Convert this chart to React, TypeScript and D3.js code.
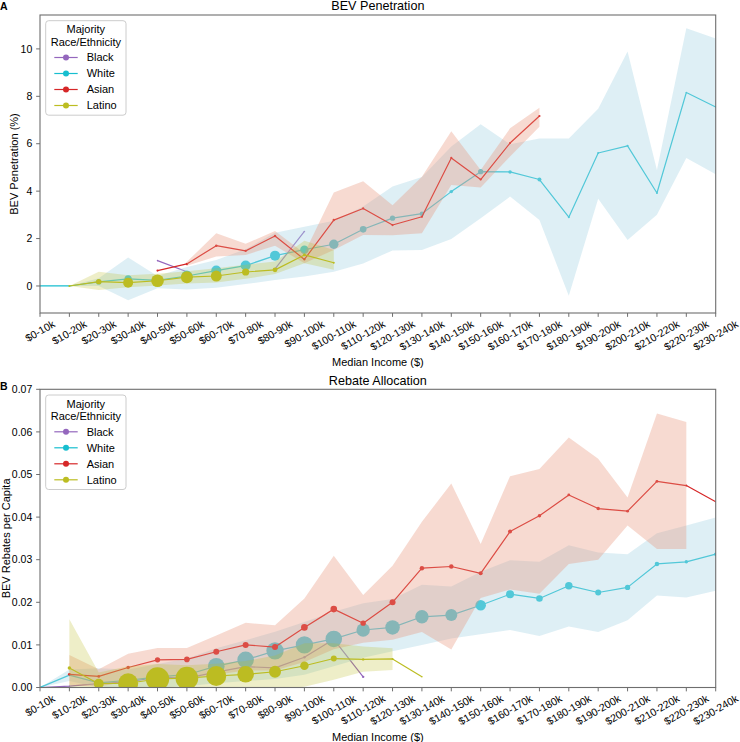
import React, { useEffect, useRef } from 'react';
import * as d3 from 'd3';

const N = NaN;

const incomeBins = [
  '$0-10k', '$10-20k', '$20-30k', '$30-40k', '$40-50k', '$50-60k', '$60-70k', '$70-80k',
  '$80-90k', '$90-100k', '$100-110k', '$110-120k', '$120-130k', '$130-140k', '$140-150k',
  '$150-160k', '$160-170k', '$170-180k', '$180-190k', '$190-200k', '$200-210k', '$210-220k',
  '$220-230k', '$230-240k',
];

const groupNames = ['Black', 'White', 'Asian', 'Latino'];

// ---------- Panel A: BEV penetration (%) ----------
const penBlack = [N, N, N, N, 1.07, 0.6, N, N, 0.72, 2.3, N, N, N, N, N, N, N, N, N, N, N, N, N, N];
const penWhite = [0, 0, 0.17, 0.3, 0.24, 0.42, 0.65, 0.86, 1.28, 1.53, 1.76, 2.39, 2.86, 3.05, 3.98, 4.82, 4.81, 4.49, 2.9, 5.61, 5.91, 3.92, 8.16, 7.55];
const penWhiteLo = [0, 0, 0.0, -0.6, -0.1, -0.15, -0.08, 0.08, 0.25, 0.4, 0.6, 0.95, 1.5, 1.52, 1.98, 2.86, 3.77, 2.78, -0.41, 3.68, 1.94, 3.0, 5.4, 4.71];
const penWhiteHi = [0, 0, 0.33, 1.2, 0.42, 0.8, 1.1, 1.55, 2.25, 2.5, 2.75, 3.35, 4.2, 4.6, 5.88, 6.82, 5.98, 6.22, 6.22, 7.48, 9.89, 4.89, 10.87, 10.44];
const penAsian = [N, N, N, N, 0.65, 0.93, 1.7, 1.48, 2.11, 1.12, 2.78, 3.27, 2.57, 2.92, 5.4, 4.49, 6.03, 7.17, N, N, N, N, N, N];
const penAsianLo = [N, N, N, N, N, 0.85, 1.24, 1.31, 1.7, 0.96, 1.52, 2.15, 2.14, 2.22, 4.26, 4.15, 5.46, 6.72, N, N, N, N, N, N];
const penAsianHi = [N, N, N, N, N, 1.02, 2.22, 1.78, 2.32, 1.38, 3.94, 4.42, 3.4, 4.61, 6.53, 4.89, 6.65, 7.52, N, N, N, N, N, N];
const penLatino = [N, 0, 0.18, 0.14, 0.22, 0.37, 0.42, 0.59, 0.68, 1.31, 0.98, N, N, N, N, N, N, N, N, N, N, N, N, N];
const penLatinoLo = [N, 0, -0.17, -0.05, 0.02, 0.1, 0.15, 0.3, 0.5, 0.96, 0.68, N, N, N, N, N, N, N, N, N, N, N, N, N];
const penLatinoHi = [N, 0, 0.6, 0.45, 0.52, 0.62, 0.75, 0.9, 1.03, 1.91, 1.52, N, N, N, N, N, N, N, N, N, N, N, N, N];
// number of tracts per bin (marker area)
const penBlackN = [0, 0, 0, 0, 0.6, 0.6, 0, 0, 0.6, 0.6, 0, 0, 0, 0, 0, 0, 0, 0, 0, 0, 0, 0, 0, 0];
const penWhiteN = [0.3, 0.3, 7, 13, 9, 30, 25, 25, 25, 18, 22, 11, 7, 5, 3, 7, 3, 4, 1, 1, 1, 1, 0.6, 0.6];
const penAsianN = [0, 0, 0, 0, 1.2, 1.5, 1.5, 1.2, 1.5, 1.2, 1.5, 1.2, 1.2, 1.2, 1.2, 1.2, 1.2, 1.2, 0, 0, 0, 0, 0, 0];
const penLatinoN = [0, 1, 7, 25, 40, 36, 30, 13, 6, 2, 1, 0, 0, 0, 0, 0, 0, 0, 0, 0, 0, 0, 0, 0];
const penTicks = [0, 2, 4, 6, 8, 10];

// ---------- Panel B: rebates per capita ----------
const rebBlack = [0, 0.0003, 0.0009, 0.0013, 0.0024, 0.0022, 0.0036, 0.0049, 0.0046, 0.0071, 0.0113, 0.0025, N, N, N, N, N, N, N, N, N, N, N, N];
const rebWhite = [0, 0.0029, 0.0011, 0.0017, 0.0025, 0.003, 0.005, 0.0065, 0.0086, 0.01, 0.0114, 0.0135, 0.0141, 0.0166, 0.017, 0.0193, 0.0219, 0.0209, 0.0239, 0.0223, 0.0235, 0.029, 0.0295, 0.0313];
const rebWhiteLo = [0, 0.0015, 0, 0, 0, 0.0003, 0.001, 0.0015, 0.002, 0.003, 0.005, 0.007, 0.0085, 0.01, 0.0115, 0.0125, 0.0135, 0.0121, 0.0143, 0.013, 0.0158, 0.0216, 0.0211, 0.0227];
const rebWhiteHi = [0, 0.0042, 0.0045, 0.0042, 0.0055, 0.0068, 0.0092, 0.0111, 0.0131, 0.0154, 0.0178, 0.0198, 0.0208, 0.0241, 0.0237, 0.0272, 0.0299, 0.0295, 0.0334, 0.0317, 0.0313, 0.0362, 0.038, 0.0399];
const rebAsian = [N, 0.0031, 0.0026, 0.0047, 0.0065, 0.0066, 0.0084, 0.01, 0.0095, 0.0141, 0.0184, 0.0151, 0.02, 0.028, 0.0284, 0.0268, 0.0366, 0.0403, 0.0452, 0.042, 0.0414, 0.0484, 0.0474, 0.0436];
const rebAsianLo = [N, 0.0005, 0.0002, 0.0015, 0.0025, 0.0022, 0.003, 0.004, 0.004, 0.006, 0.009, 0.0105, 0.0112, 0.013, 0.0089, 0.021, 0.023, 0.022, 0.029, 0.03, 0.038, 0.0325, 0.0325, N];
const rebAsianHi = [N, 0.0076, 0.0043, 0.0079, 0.0093, 0.0093, 0.0122, 0.0152, 0.0146, 0.0209, 0.0309, 0.0217, 0.0286, 0.0389, 0.0479, 0.0337, 0.0496, 0.0513, 0.0587, 0.0537, 0.0446, 0.0643, 0.0623, N];
const rebLatino = [N, 0.0046, 0.0009, 0.001, 0.002, 0.0022, 0.0027, 0.0031, 0.0037, 0.0051, 0.0068, 0.0066, 0.0067, 0.0025, N, N, N, N, N, N, N, N, N, N];
const rebLatinoLo = [N, 0, 0, -0.001, -0.001, -0.001, -0.001, -0.001, -0.0005, 0.0002, 0.0018, 0.0037, 0.0041, N, N, N, N, N, N, N, N, N, N, N];
const rebLatinoHi = [N, 0.016, 0.0035, 0.005, 0.0055, 0.0052, 0.0056, 0.0062, 0.0075, 0.0104, 0.0104, 0.0096, 0.0092, N, N, N, N, N, N, N, N, N, N, N];
const rebBlackN = [0.3, 0.6, 1, 1, 1, 1, 1.2, 1.2, 1.2, 1.5, 1.5, 1.5, 0, 0, 0, 0, 0, 0, 0, 0, 0, 0, 0, 0];
const rebWhiteN = [0.3, 1, 9, 16, 56, 45, 69, 69, 75, 75, 69, 45, 53, 45, 36, 28, 16, 11, 14, 9, 7, 5, 3, 3];
const rebAsianN = [0, 2, 2, 3, 7, 8, 9, 9, 9, 11, 11, 7, 9, 5, 5, 4, 4, 3, 2, 3, 2, 2, 1, 0.5];
const rebLatinoN = [0, 3, 25, 100, 137, 128, 100, 69, 36, 18, 9, 1.5, 1, 0.6, 0, 0, 0, 0, 0, 0, 0, 0, 0, 0];
const rebTicks = [0, 0.01, 0.02, 0.03, 0.04, 0.05, 0.06, 0.07];

// ---------- styling ----------
const FONT = '"Liberation Sans", Arial, Helvetica, sans-serif';
const COLORS: Record<string, string> = { Black: '#9467bd', White: '#17becf', Asian: '#d62728', Latino: '#bcbd22' };
const BAND: Record<string, [string, number]> = {
  White: ['#add8e6', 0.4],
  Asian: ['#e9967a', 0.35],
  Latino: ['#bcbd22', 0.25],
};
const PLOT_L = 40;
const PLOT_R = 715.7;
const TICK = 3.85;
const PAD = 3.85;
const TFS = 10.5; // tick label font
const FS = 11; // axis label / legend font
const ROT = 30;

type Series = { name: string; v: number[]; lo?: number[]; hi?: number[]; n: number[] };
type Panel = {
  key: string; letter: string; title: string; ylabel: string; top: number; bottom: number;
  yDomain: [number, number]; ticks: number[]; fmt: (d: number) => string; series: Series[];
  ylabelX: number; letterY: number;
};

function drawPanel(root: d3.Selection<SVGSVGElement, unknown, null, undefined>, p: Panel) {
  const x = d3.scalePoint<string>().domain(incomeBins).range([PLOT_L, PLOT_R]);
  const y = d3.scaleLinear().domain(p.yDomain).range([p.bottom, p.top]);
  const r = d3.scaleSqrt().domain([0, 144]).range([0, 12]);
  const clipId = 'clip-' + p.key;
  root.append('clipPath').attr('id', clipId).append('rect')
    .attr('x', PLOT_L).attr('y', p.top).attr('width', PLOT_R - PLOT_L).attr('height', p.bottom - p.top);
  const plot = root.append('g').attr('clip-path', `url(#${clipId})`);

  p.series.forEach((s) => {
    const pts = incomeBins.map((b, i) => ({ b, v: s.v[i], lo: s.lo ? s.lo[i] : N, hi: s.hi ? s.hi[i] : N, n: s.n[i] }));
    const line = d3.line<any>().defined((d) => !isNaN(d.v)).x((d) => x(d.b)!).y((d) => y(d.v));
    plot.append('path').attr('d', line(pts)!).attr('fill', 'none')
      .attr('stroke', COLORS[s.name]).attr('stroke-width', 1.2).attr('stroke-linejoin', 'round');
    plot.append('g').selectAll('circle').data(pts.filter((d) => !isNaN(d.v) && d.n > 0)).join('circle')
      .attr('cx', (d) => x(d.b)!).attr('cy', (d) => y(d.v)).attr('r', (d) => r(d.n))
      .attr('fill', COLORS[s.name]);
    if (s.lo && s.hi && BAND[s.name]) {
      const area = d3.area<any>().defined((d) => !isNaN(d.lo) && !isNaN(d.hi))
        .x((d) => x(d.b)!).y0((d) => y(d.lo)).y1((d) => y(d.hi));
      plot.append('path').attr('d', area(pts)!).attr('fill', BAND[s.name][0]).attr('fill-opacity', BAND[s.name][1]);
    }
  });

  const axisColor = '#6e6e6e';
  root.append('rect').attr('x', PLOT_L).attr('y', p.top).attr('width', PLOT_R - PLOT_L).attr('height', p.bottom - p.top)
    .attr('fill', 'none').attr('stroke', axisColor).attr('stroke-width', 1.1);

  // y ticks
  const yt = root.append('g');
  p.ticks.forEach((t) => {
    yt.append('line').attr('x1', PLOT_L - TICK).attr('x2', PLOT_L).attr('y1', y(t)).attr('y2', y(t))
      .attr('stroke', axisColor).attr('stroke-width', 1);
    yt.append('text').attr('x', PLOT_L - TICK - PAD).attr('y', y(t)).attr('dy', '0.35em')
      .attr('text-anchor', 'end').attr('font-family', FONT).attr('font-size', TFS).attr('fill', '#000')
      .text(p.fmt(t));
  });

  // x ticks (rotated, centred on tick)
  const xt = root.append('g');
  const th = (ROT * Math.PI) / 180;
  incomeBins.forEach((b) => {
    const cx = x(b)!;
    xt.append('line').attr('x1', cx).attr('x2', cx).attr('y1', p.bottom).attr('y2', p.bottom + TICK)
      .attr('stroke', axisColor).attr('stroke-width', 1);
    const txt = xt.append('text').attr('text-anchor', 'middle').attr('dy', '0.35em')
      .attr('font-family', FONT).attr('font-size', TFS).attr('fill', '#000').text(b);
    const w = (txt.node() as SVGTextElement).getComputedTextLength();
    const h = TFS * 1.0;
    const cy = p.bottom + TICK + 1.5 + (w / 2) * Math.sin(th) + (h / 2) * Math.cos(th);
    txt.attr('transform', `translate(${cx},${cy}) rotate(${-ROT})`);
  });

  // axis labels and title
  root.append('text').attr('x', (PLOT_L + PLOT_R) / 2).attr('y', p.bottom + 53)
    .attr('text-anchor', 'middle').attr('font-family', FONT).attr('font-size', FS).text('Median Income ($)');
  root.append('text').attr('transform', `translate(${p.ylabelX},${(p.top + p.bottom) / 2}) rotate(-90)`)
    .attr('text-anchor', 'middle').attr('font-family', FONT).attr('font-size', FS).text(p.ylabel);
  root.append('text').attr('x', (PLOT_L + PLOT_R) / 2).attr('y', p.top - 4.8)
    .attr('text-anchor', 'middle').attr('font-family', FONT).attr('font-size', 12.6).text(p.title);
  root.append('text').attr('x', 0).attr('y', p.letterY)
    .attr('font-family', FONT).attr('font-size', 10.5).attr('font-weight', 'bold').text(p.letter);

  // legend
  const lg = root.append('g');
  const lx = 45.7;
  const ly = p.top + 5.7;
  lg.append('rect').attr('x', lx).attr('y', ly).attr('width', 80.3).attr('height', 94.5).attr('rx', 3)
    .attr('fill', '#fff').attr('fill-opacity', 0.8).attr('stroke', '#cccccc').attr('stroke-width', 1);
  const cxL = lx + 80.3 / 2;
  ['Majority', 'Race/Ethnicity'].forEach((t, i) => {
    lg.append('text').attr('x', cxL).attr('y', p.top + 14.6 + i * 12.2).attr('dy', '0.35em')
      .attr('text-anchor', 'middle').attr('font-family', FONT).attr('font-size', FS).text(t);
  });
  groupNames.forEach((g, i) => {
    const yy = p.top + 42.5 + i * 16;
    lg.append('line').attr('x1', 54.3).attr('x2', 77.7).attr('y1', yy).attr('y2', yy)
      .attr('stroke', COLORS[g]).attr('stroke-width', 1.2);
    lg.append('circle').attr('cx', 66).attr('cy', yy).attr('r', 3).attr('fill', COLORS[g]);
    lg.append('text').attr('x', 86.7).attr('y', yy).attr('dy', '0.35em')
      .attr('font-family', FONT).attr('font-size', FS).text(g);
  });
}

export default function App() {
  const ref = useRef<SVGSVGElement>(null);
  useEffect(() => {
    const svg = d3.select(ref.current!);
    svg.selectAll('*').remove();
    svg.append('rect').attr('width', 740).attr('height', 742).attr('fill', '#fff');
    drawPanel(svg, {
      key: 'a', letter: 'A', title: 'BEV Penetration', ylabel: 'BEV Penetration (%)',
      top: 15, bottom: 313, yDomain: [-1.14, 11.43], ticks: penTicks, fmt: (d) => String(d),
      ylabelX: 17.5, letterY: 10,
      series: [
        { name: 'Black', v: penBlack, n: penBlackN },
        { name: 'White', v: penWhite, lo: penWhiteLo, hi: penWhiteHi, n: penWhiteN },
        { name: 'Asian', v: penAsian, lo: penAsianLo, hi: penAsianHi, n: penAsianN },
        { name: 'Latino', v: penLatino, lo: penLatinoLo, hi: penLatinoHi, n: penLatinoN },
      ],
    });
    drawPanel(svg, {
      key: 'b', letter: 'B', title: 'Rebate Allocation', ylabel: 'BEV Rebates per Capita',
      top: 389.3, bottom: 687.5, yDomain: [0, 0.07], ticks: rebTicks, fmt: (d) => d.toFixed(2),
      ylabelX: 10, letterY: 390,
      series: [
        { name: 'Black', v: rebBlack, n: rebBlackN },
        { name: 'White', v: rebWhite, lo: rebWhiteLo, hi: rebWhiteHi, n: rebWhiteN },
        { name: 'Asian', v: rebAsian, lo: rebAsianLo, hi: rebAsianHi, n: rebAsianN },
        { name: 'Latino', v: rebLatino, lo: rebLatinoLo, hi: rebLatinoHi, n: rebLatinoN },
      ],
    });
  }, []);
  return (
    <svg ref={ref} width={740} height={742} style={{ position: 'absolute', left: 0, top: 0, display: 'block' }} />
  );
}
